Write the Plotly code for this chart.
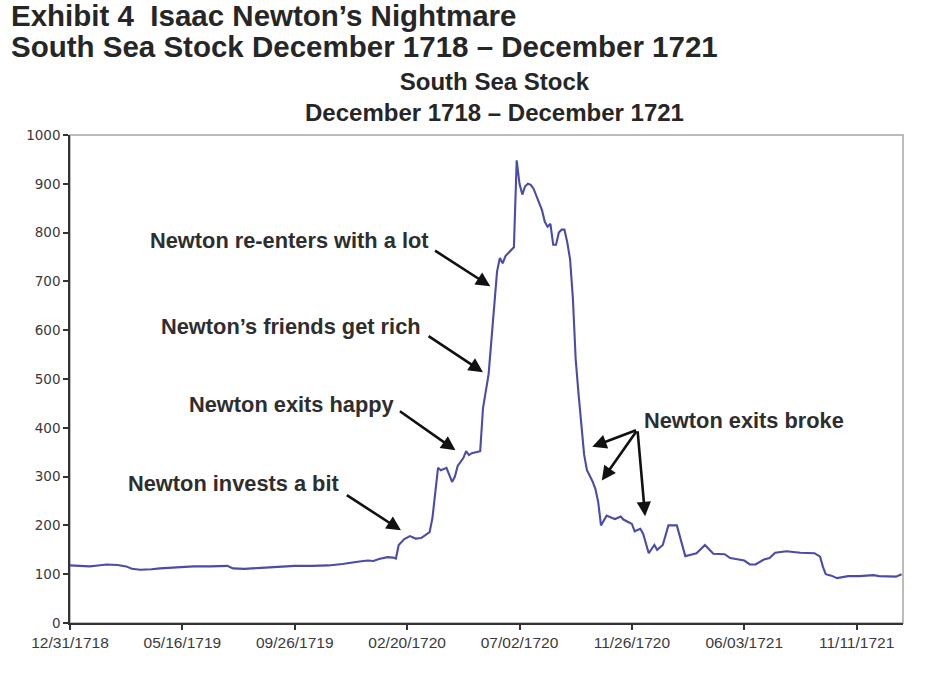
import plotly.graph_objects as go

# Observation index (category position on the time axis) and South Sea stock price
obs = [0, 4, 7, 10, 13, 17, 20, 22, 25, 29, 32, 38, 44, 50, 56, 58, 62, 68, 75, 80,
       86, 92, 97, 100, 103, 106, 108, 110, 113, 115, 116, 117, 119, 121, 123, 125,
       127, 128, 129, 131, 132, 133, 134, 136, 137, 138, 140, 141, 142, 143, 145,
       146, 147, 148, 149, 150, 151, 152, 153, 154, 155, 156, 157, 158, 159, 160,
       161, 162, 163, 164, 165, 166, 167, 168, 169, 170, 171, 172, 173, 174, 175,
       176, 177, 178, 179, 180, 181, 182, 183, 184, 185, 186, 187, 188, 189, 190,
       191, 193, 194, 196, 197, 199, 200, 201, 203, 204, 206, 208, 209, 211, 213,
       216, 218, 219, 221, 223, 226, 228, 229, 233, 235, 237, 240, 242, 244, 247,
       249, 251, 255, 260, 265, 267, 268, 269, 271, 273, 275, 277, 281, 286, 288,
       291, 294, 296]
price = [118, 116, 116, 118, 120, 119, 116, 111, 109, 110, 112, 114, 116, 116, 117,
         112, 111, 113, 116, 117, 117, 118, 121, 124, 126, 128, 127, 131, 135, 134,
         132, 160, 172, 178, 173, 174, 182, 186, 215, 318, 313, 316, 318, 289, 300,
         322, 338, 352, 344, 348, 350, 352, 440, 480, 510, 580, 660, 720, 748, 737,
         752, 758, 765, 770, 948, 900, 878, 895, 900, 898, 890, 875, 858, 846, 822,
         812, 818, 775, 775, 800, 806, 806, 780, 745, 665, 540, 470, 400, 345, 313,
         302, 290, 275, 248, 200, 210, 220, 215, 213, 218, 212, 206, 203, 188, 193,
         183, 143, 160, 150, 160, 200, 200, 160, 137, 140, 143, 160, 147, 142, 141,
         133, 131, 128, 120, 120, 130, 133, 144, 147, 144, 143, 136, 115, 100, 97,
         92, 94, 96, 96, 98, 96, 95, 95, 100]

tick_obs = [0, 40, 80, 120, 160, 200, 240, 280]
tick_labels = ["12/31/1718", "05/16/1719", "09/26/1719", "02/20/1720",
               "07/02/1720", "11/26/1720", "06/03/1721", "11/11/1721"]

title_lines = ["Exhibit 4\u00a0 Isaac Newton\u2019s Nightmare",
               "South Sea Stock December 1718 \u2013 December 1721"]
chart_title = "South Sea Stock<br>December 1718 \u2013 December 1721"

# annotation texts with their points (obs, price)
notes = [
    ("Newton re-enters with a lot", 78.2, 783),
    ("Newton\u2019s friends get rich", 78.8, 607),
    ("Newton exits happy", 79.0, 448),
    ("Newton invests a bit", 58.3, 286),
    ("Newton exits broke", 240.0, 414),
]
# arrows: (tail obs, tail price, head obs, head price)
arrows = [
    (98.0, 264, 117.8, 190),
    (116.9, 436, 137.2, 354),
    (127.1, 590, 147.0, 514),
    (129.4, 765, 149.6, 690),
    (202.0, 396, 185.9, 361),
    (202.0, 396, 189.3, 292),
    (202.0, 396, 204.7, 219),
]

FONT = "Liberation Sans, Arial"

fig = go.Figure()
fig.add_trace(go.Scatter(x=obs, y=price, mode="lines",
                         line=dict(color="#4b4ba8", width=2.1),
                         hoverinfo="skip", showlegend=False))

annotations = []
for t, x, y in notes:
    annotations.append(dict(x=x, y=y, xref="x", yref="y", text=t, showarrow=False,
                            font=dict(family=FONT, size=21.8, color="#2e2e2e",
                                      weight="bold"),
                            xanchor="center", yanchor="middle"))
for tx, ty, hx, hy in arrows:
    annotations.append(dict(x=hx, y=hy, ax=tx, ay=ty, xref="x", yref="y",
                            axref="x", ayref="y", text="", showarrow=True,
                            arrowhead=2, arrowsize=1.1, arrowwidth=2.6,
                            arrowcolor="#111111"))
annotations.append(dict(x=-0.0738, y=1.2453, xref="paper", yref="paper",
                        text=title_lines[0], showarrow=False, xanchor="left",
                        yanchor="middle",
                        font=dict(family=FONT, size=29.5, color="#262626",
                                  weight="bold")))
annotations.append(dict(x=-0.0738, y=1.1816, xref="paper", yref="paper",
                        text=title_lines[1], showarrow=False, xanchor="left",
                        yanchor="middle",
                        font=dict(family=FONT, size=29.5, color="#262626",
                                  weight="bold")))
annotations.append(dict(x=0.51, y=1.0773, xref="paper", yref="paper",
                        text=chart_title, showarrow=False, xanchor="center",
                        yanchor="middle",
                        font=dict(family=FONT, size=24, color="#262626",
                                  weight="bold")))

fig.update_layout(
    width=950, height=686,
    margin=dict(l=69.5, r=47, t=134.7, b=63.3),
    paper_bgcolor="white", plot_bgcolor="white",
    annotations=annotations,
    shapes=[dict(type="rect", xref="paper", yref="paper", x0=0, y0=0, x1=1, y1=1,
                 line=dict(color="#a6a6a6", width=1.5), layer="below")],
    font=dict(family=FONT, color="#333333"),
)
fig.update_xaxes(range=[0, 296.5], tickmode="array", tickvals=tick_obs,
                 ticktext=tick_labels, showgrid=False, zeroline=False,
                 showline=True, linecolor="#333333", linewidth=1.5,
                 ticks="outside", ticklen=5, tickcolor="#333333", tickwidth=1.5,
                 tickfont=dict(family=FONT, size=15.5, color="#3a3a3a"))
fig.update_yaxes(range=[0, 1000], dtick=100, showgrid=False, zeroline=False,
                 showline=True, linecolor="#333333", linewidth=1.5,
                 ticks="outside", ticklen=5, tickcolor="#333333", tickwidth=1.5,
                 tickfont=dict(family="DejaVu Sans", size=13.5, color="#3a3a3a"))

fig.write_html("out.html", config={"displayModeBar": False},
               post_script="document.body.style.margin='0';")
